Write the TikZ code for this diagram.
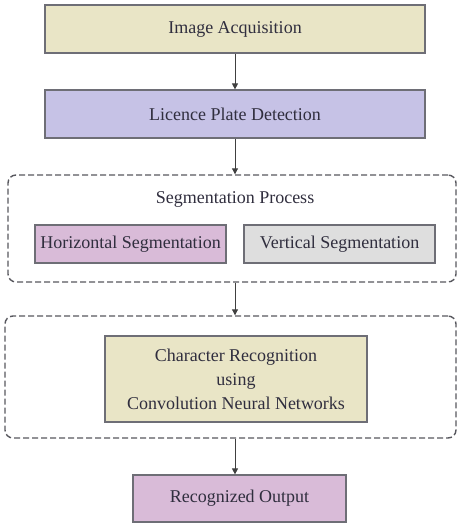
\documentclass[tikz,border=0pt]{standalone}
\usepackage{fontspec}
\setmainfont{Liberation Serif}
\usetikzlibrary{arrows.meta}
\definecolor{cYel}{HTML}{E9E5C6}
\definecolor{cLav}{HTML}{C6C2E6}
\definecolor{cPink}{HTML}{D9BBD8}
\definecolor{cGrey}{HTML}{DEDEDE}
\definecolor{cTxt}{HTML}{302E3E}
\definecolor{cLine}{HTML}{6E6E76}
\begin{document}
\begin{tikzpicture}[x=1pt,y=-1pt,
  box/.style={draw=cLine,line width=1.2pt,rectangle,inner sep=0pt,text=cTxt,
    font=\fontsize{18}{24}\selectfont,align=center},
  group/.style={draw=cLine!80!black,dash pattern=on 6pt off 3pt,line width=1.4pt,
    rounded corners=8pt,rectangle,inner sep=0pt},
  conn/.style={draw=black!75,line width=1pt,-{Triangle[length=6pt,width=6pt]}}]
\useasboundingbox (0,0) rectangle (458,523);
\node[group,minimum width=448pt,minimum height=107pt] (seg) at (232,228.5) {};
\node[group,minimum width=451pt,minimum height=122pt] (cnn) at (230.5,377) {};
\node[box,fill=cYel,minimum width=380pt,minimum height=48pt] (ia) at (235,29) {Image Acquisition};
\node[box,fill=cLav,minimum width=380pt,minimum height=48pt] (lpd) at (235,114) {Licence Plate Detection};
\node[text=cTxt,font=\fontsize{18}{24}\selectfont] (segt) at (235,199) {Segmentation Process};
\node[box,fill=cPink,minimum width=191pt,minimum height=38pt] (hs) at (130.5,244) {Horizontal Segmentation};
\node[box,fill=cGrey,minimum width=191pt,minimum height=38pt] (vs) at (339.5,244) {Vertical Segmentation};
\node[box,fill=cYel,minimum width=262pt,minimum height=86pt] (cr) at (236,379) {Character Recognition\\using\\Convolution Neural Networks};
\node[box,fill=cPink,minimum width=213pt,minimum height=47pt] (ro) at (239.5,498.5) {Recognized Output};
\draw[conn] (ia.south) -- (lpd.north);
\draw[conn] (lpd.south) -- (lpd.south |- seg.north);
\draw[conn] (lpd.south |- seg.south) -- (lpd.south |- cnn.north);
\draw[conn] (lpd.south |- cnn.south) -- (lpd.south |- ro.north);
\end{tikzpicture}
\end{document}
